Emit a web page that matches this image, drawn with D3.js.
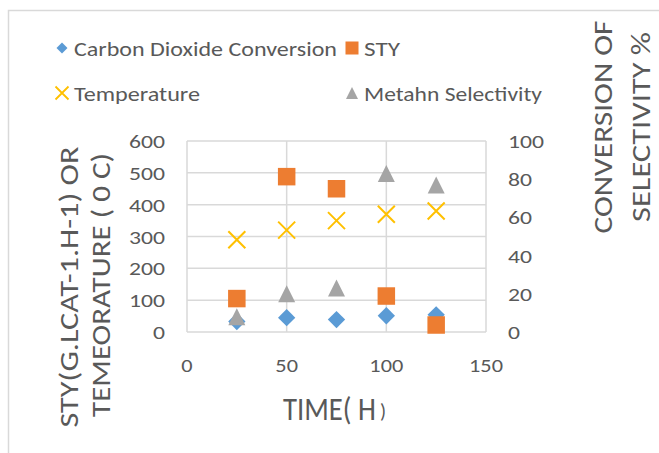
<!DOCTYPE html>
<html>
<head>
<meta charset="utf-8">
<script src="https://cdn.jsdelivr.net/npm/d3@7"></script>
<style>
  body { margin: 0; background: #fff; }
  text { font-family: Calibri, Carlito, Lato, sans-serif; fill: #595959; }
</style>
</head>
<body>
<div id="chart"></div>
<script>
const hours = [25, 50, 75, 100, 125];
const co2Conversion = [5.5, 7.5, 6.5, 8.5, 9];
const sty = [105, 488, 450, 113, 22];
const temperature = [290, 320, 350, 370, 380];
const methaneSelectivity = [8, 20, 23, 83, 77];

const xTicks = [0, 50, 100, 150];
const leftTicks = [0, 100, 200, 300, 400, 500, 600];
const rightTicks = [0, 20, 40, 60, 80, 100];

const width = 659;
const height = 453;

const plotLeft = 187, plotRight = 486, plotTop = 141, plotBottom = 332;

const x = d3.scaleLinear().domain([0, 150]).range([plotLeft, plotRight]);
const yLeft = d3.scaleLinear().domain([0, 600]).range([plotBottom, plotTop]);
const yRight = d3.scaleLinear().domain([0, 100]).range([plotBottom, plotTop]);

const svg = d3.select("#chart")
  .append("svg")
    .attr("width", width)
    .attr("height", height);

svg.append("rect")
    .attr("width", width)
    .attr("height", height)
    .attr("fill", "#fff");

// chart frame (cut off at right and bottom)
svg.append("rect")
    .attr("x", 8.5)
    .attr("y", 10.5)
    .attr("width", 700)
    .attr("height", 500)
    .attr("fill", "none")
    .attr("stroke", "#d9d9d9")
    .attr("stroke-width", 1.5);

// gridlines
svg.append("g")
  .selectAll("line")
  .data(leftTicks)
  .join("line")
    .attr("x1", plotLeft)
    .attr("x2", plotRight)
    .attr("y1", d => yLeft(d))
    .attr("y2", d => yLeft(d))
    .attr("stroke", "#d9d9d9")
    .attr("stroke-width", 1.5);

svg.append("g")
  .selectAll("line")
  .data(xTicks)
  .join("line")
    .attr("x1", d => x(d))
    .attr("x2", d => x(d))
    .attr("y1", plotTop)
    .attr("y2", plotBottom)
    .attr("stroke", "#d9d9d9")
    .attr("stroke-width", 1.5);

// tick labels
const digitW = 12;

svg.append("g")
  .selectAll("text")
  .data(leftTicks)
  .join("text")
    .attr("x", 165)
    .attr("y", d => yLeft(d) + 7)
    .attr("text-anchor", "end")
    .attr("font-size", 19)
    .attr("textLength", d => String(d).length * digitW)
    .attr("lengthAdjust", "spacingAndGlyphs")
    .text(d => d);

svg.append("g")
  .selectAll("text")
  .data(rightTicks)
  .join("text")
    .attr("x", 508)
    .attr("y", d => yRight(d) + 7)
    .attr("text-anchor", "start")
    .attr("font-size", 19)
    .attr("textLength", d => String(d).length * digitW)
    .attr("lengthAdjust", "spacingAndGlyphs")
    .text(d => d);

svg.append("g")
  .selectAll("text")
  .data(xTicks)
  .join("text")
    .attr("x", d => x(d))
    .attr("y", 372)
    .attr("text-anchor", "middle")
    .attr("font-size", 19)
    .attr("textLength", d => String(d).length * 11.3)
    .attr("lengthAdjust", "spacingAndGlyphs")
    .text(d => d);

// axis titles: x title squeezed horizontally with a scale so its box stays true
const xTitle = svg.append("text")
    .attr("font-size", 33)
    .text("TIME( H");
const xTitleScale = 93 / xTitle.node().getComputedTextLength();
xTitle.attr("transform", `translate(283,420) scale(${xTitleScale},1)`);
svg.append("text")
    .attr("x", 380)
    .attr("y", 418)
    .attr("font-size", 20)
    .text(")");

function rotatedTitle(text, cx, cy, len) {
  svg.append("text")
      .attr("transform", `translate(${cx},${cy}) rotate(-90)`)
      .attr("text-anchor", "middle")
      .attr("dominant-baseline", "central")
      .attr("font-size", 27)
      .attr("textLength", len)
      .attr("lengthAdjust", "spacingAndGlyphs")
      .text(text);
}
rotatedTitle("STY(G.LCAT-1.H-1) OR", 68, 287, 281);
rotatedTitle("TEMEORATURE ( 0 C)", 100, 285, 264);
rotatedTitle("CONVERSION OF", 602, 127, 213);
rotatedTitle("SELECTIVITY %", 640, 127, 190);

// markers
const blue = "#5b9bd5", orange = "#ed7d31", gray = "#a5a5a5", yellow = "#ffc000";

const diamond = d3.symbol().type(d3.symbolSquare).size(150);
const triangle = s => `M0,${-s / 2}L${s / 2},${s / 2}L${-s / 2},${s / 2}Z`;

svg.append("g")
  .selectAll("path")
  .data(hours)
  .join("path")
    .attr("d", diamond)
    .attr("transform", (d, i) => `translate(${x(d)},${yRight(co2Conversion[i])}) rotate(45)`)
    .attr("fill", blue);

svg.append("g")
  .selectAll("rect")
  .data(hours)
  .join("rect")
    .attr("x", d => x(d) - 8.75)
    .attr("y", (d, i) => yLeft(sty[i]) - 8.75)
    .attr("width", 17.5)
    .attr("height", 17.5)
    .attr("fill", orange);

svg.append("g")
  .selectAll("path")
  .data(hours)
  .join("path")
    .attr("d", "M-8.5,-8.5L8.5,8.5M8.5,-8.5L-8.5,8.5")
    .attr("transform", (d, i) => `translate(${x(d)},${yLeft(temperature[i])})`)
    .attr("stroke", yellow)
    .attr("stroke-width", 2)
    .attr("fill", "none");

svg.append("g")
  .selectAll("path")
  .data(hours)
  .join("path")
    .attr("d", triangle(17))
    .attr("transform", (d, i) => `translate(${x(d)},${yRight(methaneSelectivity[i])})`)
    .attr("fill", gray);

// legend
const legend = svg.append("g");
const legendItems = [
  { name: "Carbon Dioxide Conversion", kind: "diamond", lx: 62, ly: 48, len: 263 },
  { name: "STY", kind: "square", lx: 352, ly: 48, len: 36 },
  { name: "Temperature", kind: "x", lx: 62, ly: 93, len: 126 },
  { name: "Metahn Selectivity", kind: "triangle", lx: 352, ly: 93, len: 178 }
];

legendItems.forEach(item => {
  const g = legend.append("g").attr("transform", `translate(${item.lx},${item.ly})`);
  if (item.kind === "diamond") {
    g.append("path").attr("d", d3.symbol().type(d3.symbolSquare).size(60))
      .attr("transform", "rotate(45)").attr("fill", blue);
  } else if (item.kind === "square") {
    g.append("rect").attr("x", -6.5).attr("y", -6.5).attr("width", 13).attr("height", 13).attr("fill", orange);
  } else if (item.kind === "x") {
    g.append("path").attr("d", "M-6.5,-6.5L6.5,6.5M6.5,-6.5L-6.5,6.5")
      .attr("stroke", yellow).attr("stroke-width", 1.8);
  } else {
    g.append("path").attr("d", triangle(12)).attr("fill", gray);
  }
  g.append("text")
      .attr("x", 12)
      .attr("y", 7.5)
      .attr("font-size", 21)
      .attr("textLength", item.len)
      .attr("lengthAdjust", "spacingAndGlyphs")
      .text(item.name);
});
</script>
</body>
</html>
